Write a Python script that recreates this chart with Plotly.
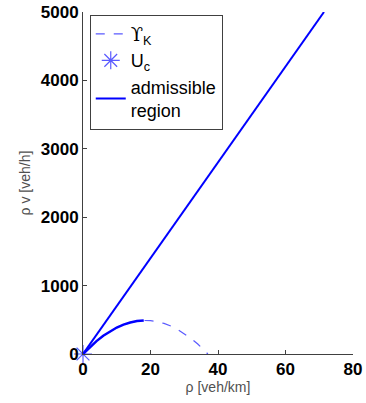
import plotly.graph_objects as go

# Flow-density diagram: admissible region and equilibrium curve
rho_line = [0, 71.4]            # density [veh/km]
flow_line = [0, 5000]           # flow [veh/h]

rho_curve = [0, 2, 4, 6, 8, 10, 12, 14, 16, 18, 20, 22, 24, 26, 28, 30, 32, 34, 36, 37]
flow_curve = [0, 100, 189, 267, 332, 387, 429, 461, 481, 490, 487, 473, 447, 410, 361, 301, 229, 146, 52, 0]

# Solid (admissible) part of the curve, up to its maximum
rho_adm = rho_curve[:10]
flow_adm = flow_curve[:10]

rho_c = [0]
flow_c = [0]

x_ticks = [0, 20, 40, 60, 80]
y_ticks = [0, 1000, 2000, 3000, 4000, 5000]

blue = "#0000ff"
light_blue = "#5a5aff"

fig = go.Figure()
fig.add_trace(go.Scatter(
    x=rho_curve, y=flow_curve, mode="lines",
    line=dict(color=light_blue, width=1.2, dash="dash"),
    name='<span style="font-family:DejaVu Serif">\u03d2</span><sub>K</sub>', cliponaxis=False))
fig.add_trace(go.Scatter(
    x=rho_c, y=flow_c, mode="markers",
    marker=dict(symbol="asterisk-open", size=15, color=light_blue,
                line=dict(color=light_blue, width=1.2)),
    name="U<sub>c</sub>", cliponaxis=False))
fig.add_trace(go.Scatter(
    x=rho_line, y=flow_line, mode="lines",
    line=dict(color=blue, width=2),
    name="admissible<br>region", legendgroup="adm"))
fig.add_trace(go.Scatter(
    x=rho_adm, y=flow_adm, mode="lines",
    line=dict(color=blue, width=2.5),
    name="admissible region", legendgroup="adm", showlegend=False))

axis_common = dict(
    showgrid=False, zeroline=False, showline=True, automargin=False,
    linecolor="#404040", linewidth=1,
    ticks="inside", ticklen=4, tickcolor="#404040",
    tickfont=dict(family="Liberation Sans, Arial", size=17, color="black", weight="bold"),
    title_font=dict(family="Liberation Sans, Arial", size=14, color="#505050"),
)

fig.update_layout(
    width=366, height=403,
    margin=dict(l=83, r=13, t=12, b=49),
    paper_bgcolor="white", plot_bgcolor="white",
    showlegend=True,
    legend=dict(
        x=0.025, y=0.992, xanchor="left", yanchor="top",
        bgcolor="white", bordercolor="#404040", borderwidth=1,
        font=dict(family="Liberation Sans, Arial", size=18, color="black"),
        itemwidth=30, tracegroupgap=0,
    ),
    xaxis=dict(range=[0, 80], tickvals=x_ticks, title=dict(text="\u03c1 [veh/km]", standoff=2), **axis_common),
    yaxis=dict(range=[0, 5000], tickvals=y_ticks, title=dict(text="\u03c1 v [veh/h]", standoff=6), **axis_common),
)

fig.write_html("out.html")
